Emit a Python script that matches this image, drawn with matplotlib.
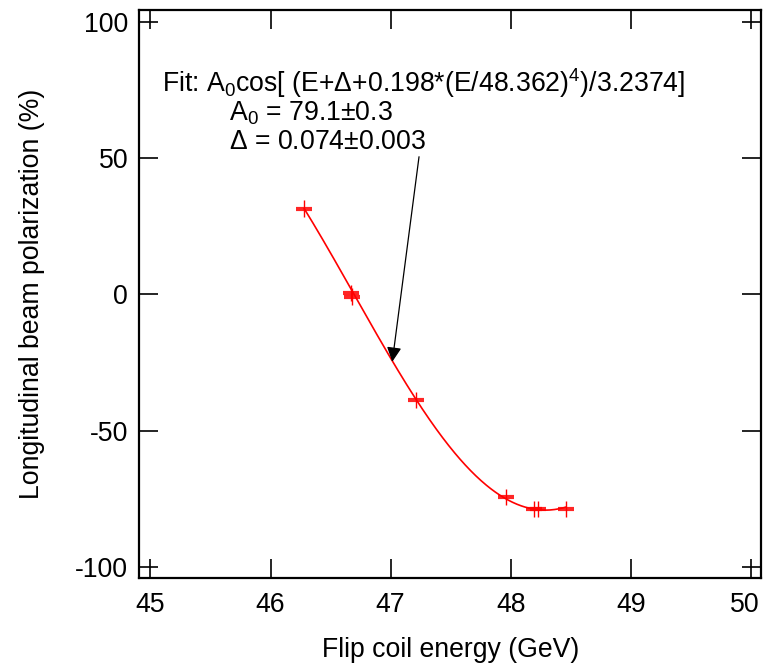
import numpy as np
import matplotlib
matplotlib.use('Agg')
import matplotlib.pyplot as plt
import matplotlib.transforms as mtransforms

plt.rcParams['font.family'] = ['Liberation Sans', 'DejaVu Sans']
plt.rcParams['mathtext.fontset'] = 'custom'
plt.rcParams['mathtext.rm'] = 'Liberation Sans'
plt.rcParams['mathtext.it'] = 'Liberation Sans'
plt.rcParams['axes.unicode_minus'] = False

# measured points (flip coil energy in GeV, polarization in %)
energy = [46.281, 46.672, 46.680, 47.212, 47.959, 48.197, 48.230, 48.461]
polarization = [31.5, 0.5, -0.8, -38.8, -74.4, -78.6, -78.6, -78.8]
energy_err = [0.065, 0.065, 0.065, 0.065, 0.065, 0.065, 0.065, 0.065]
polar_err = [3.0, 3.0, 3.0, 3.0, 3.0, 3.0, 3.0, 3.0]

# fit parameters as printed on the chart
A0 = 79.1
delta = 0.074

x_ticks = [45, 46, 47, 48, 49, 50]
y_ticks = [-100, -50, 0, 50, 100]

FS = 19.2

fig = plt.figure(figsize=(7.64, 6.69), dpi=100)
ax = fig.add_axes([0.1823, 0.136, 0.8142, 0.849])

# fit curve
e = np.linspace(min(energy), max(energy), 300)
phase = np.pi * (e + delta + 0.198 * (e / 48.362) ** 4) / 3.2374
ax.plot(e, A0 * np.cos(phase), color='red', lw=1.2, zorder=3)

# data points: thick horizontal bars, thin vertical bars
eb = ax.errorbar(energy, polarization, xerr=energy_err, yerr=polar_err,
                 fmt='none', ecolor='red', capsize=0, zorder=4)
eb[2][0].set_linewidth(3.0)
eb[2][0].set_alpha(0.85)
eb[2][1].set_linewidth(1.0)

ax.set_xlim(44.907, 50.088)
ax.set_ylim(-104.0, 104.3)
ax.set_xticks(x_ticks)
ax.set_yticks(y_ticks)
ax.tick_params(direction='in', length=14, width=1.2, labelsize=FS,
               top=True, right=True, pad=8)
ax.tick_params(axis='x', pad=10)
for s in ax.spines.values():
    s.set_linewidth(1.6)

# nudge the last x label so it stays inside the figure
last = ax.get_xticklabels()[-1]
last.set_transform(last.get_transform() +
                   mtransforms.ScaledTranslation(-4 / 72, 0, fig.dpi_scale_trans))

ax.set_xlabel('Flip coil energy (GeV)', fontsize=FS, labelpad=14)
ax.set_ylabel('Longitudinal beam polarization (%)', fontsize=FS, labelpad=22)

ax.text(45.096, 77.5, r'Fit: A$_0$cos[ (E+$\Delta$+0.198*(E/48.362)$^4$)/3.2374]',
        fontsize=FS, va='center', ha='left')
ax.text(45.653, 66.5, r'A$_0$ = 79.1$\pm$0.3', fontsize=FS, va='center', ha='left')
ax.text(45.653, 56.0, r'$\Delta$ = 0.074$\pm$0.003', fontsize=FS, va='center', ha='left')

ax.annotate('', xy=(47.014, -24.7), xytext=(47.237, 50.5),
            arrowprops=dict(arrowstyle='-|>', color='black', lw=0.9,
                            mutation_scale=22, shrinkA=0, shrinkB=0))

fig.savefig('out.png', dpi=100)
